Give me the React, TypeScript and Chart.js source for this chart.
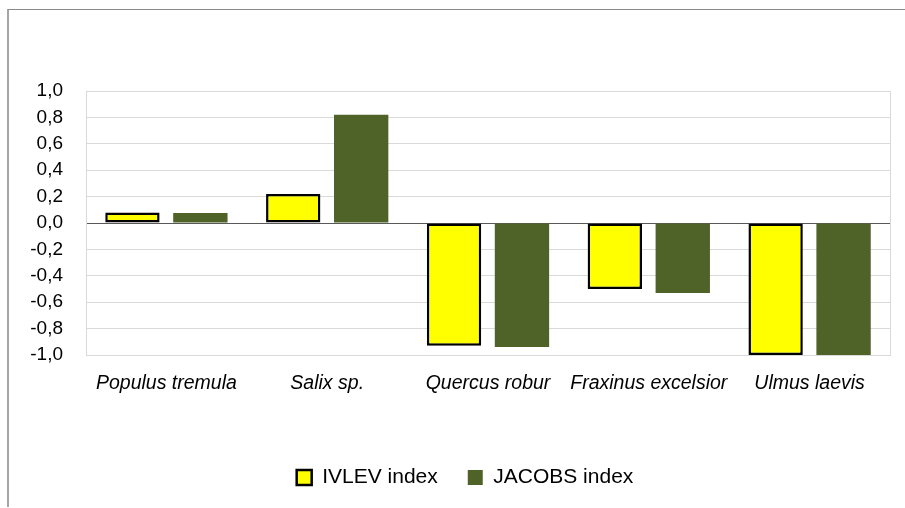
import React, { useEffect, useRef } from "react";
import { Chart, registerables } from "chart.js";

Chart.register(...registerables);

const categories = ["Populus tremula", "Salix sp.", "Quercus robur", "Fraxinus excelsior", "Ulmus laevis"];
const ivlevValues = [0.08, 0.22, -0.93, -0.5, -1.0];
const jacobsValues = [0.075, 0.82, -0.94, -0.53, -1.0];
const seriesNames = ["IVLEV index", "JACOBS index"];
const yMin = -1;
const yMax = 1;
const yStep = 0.2;

const FONT = "'Liberation Sans', Arial, sans-serif";

const plotBorder = {
  id: "plotBorder",
  beforeDatasetsDraw(chart: any) {
    const { ctx, chartArea } = chart;
    ctx.save();
    ctx.strokeStyle = "#d9d9d9";
    ctx.lineWidth = 1;
    ctx.strokeRect(
      Math.round(chartArea.left) + 0.5,
      Math.round(chartArea.top) + 0.5,
      Math.round(chartArea.right - chartArea.left),
      Math.round(chartArea.bottom - chartArea.top)
    );
    ctx.restore();
  },
};

const legendShift = {
  id: "legendShift",
  afterLayout(chart: any) {
    if (chart.legend) {
      chart.legend.left += 40;
    }
  },
};

export default function App() {
  const ref = useRef<HTMLCanvasElement | null>(null);

  useEffect(() => {
    if (!ref.current) return;
    const chart = new Chart(ref.current, {
      type: "bar",
      data: {
        labels: categories,
        datasets: [
          {
            label: seriesNames[0],
            data: ivlevValues,
            backgroundColor: "#FFFF00",
            borderColor: "#000000",
            borderWidth: 2.5,
            borderSkipped: false,
            categoryPercentage: 0.845,
            barPercentage: 0.8,
          },
          {
            label: seriesNames[1],
            data: jacobsValues,
            backgroundColor: "#4F6228",
            borderColor: "#4F6228",
            borderWidth: 0,
            categoryPercentage: 0.845,
            barPercentage: 0.8,
          },
        ],
      },
      options: {
        responsive: false,
        animation: false,
        layout: { padding: { left: 0, right: 15, top: 91, bottom: 10 } },
        plugins: {
          tooltip: { enabled: false },
          legend: {
            position: "bottom",
            labels: {
              color: "#000",
              font: { family: FONT, size: 21 },
              boxWidth: 15,
              boxHeight: 15,
              padding: 30,
            },
          },
        },
        scales: {
          x: {
            grid: { display: false, drawTicks: false },
            border: { display: false },
            ticks: {
              color: "#000",
              padding: 17,
              font: { family: FONT, size: 19.5, style: "italic" },
              maxRotation: 0,
              autoSkip: false,
            },
            afterFit(scale: any) {
              scale.height = 82;
            },
          },
          y: {
            min: yMin,
            max: yMax,
            grid: {
              drawTicks: false,
              color: (c: any) => (c.tick && Math.abs(c.tick.value) < 1e-9 ? "#595959" : "#d9d9d9"),
              lineWidth: 1,
            },
            border: { display: false },
            ticks: {
              stepSize: yStep,
              color: "#000",
              padding: 23,
              font: { family: FONT, size: 19 },
              callback: (v: any) => {
                let r = Math.round(Number(v) * 10) / 10;
                if (Math.abs(r) < 1e-9) r = 0;
                return r.toFixed(1).replace(".", ",");
              },
            },
            afterFit(scale: any) {
              scale.width = 86;
            },
          },
        },
      },
      plugins: [plotBorder, legendShift],
    } as any);
    return () => chart.destroy();
  }, []);

  return (
    <>
      <div
        style={{
          position: "fixed",
          left: 7,
          top: 9,
          width: 898,
          height: 498,
          borderTop: "1px solid #8a8a8a",
          borderLeft: "2px solid #a6a6a6",
          boxSizing: "border-box",
        }}
      />
      <canvas
        ref={ref}
        width={905}
        height={508}
        style={{ position: "fixed", left: 0, top: 0, width: 905, height: 508, display: "block" }}
      />
    </>
  );
}
